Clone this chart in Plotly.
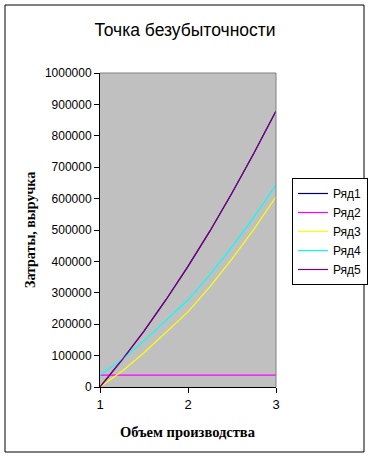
import plotly.graph_objects as go

volume = [1, 1.25, 1.5, 1.75, 2, 2.25, 2.5, 2.75, 3]
row1 = [0, 86000, 178000, 278000, 384000, 497000, 618000, 745000, 879000]
row2 = [38000, 38000, 38000, 38000, 38000, 38000, 38000, 38000, 38000]
row3 = [0, 50000, 109000, 174000, 239000, 320000, 408000, 503000, 606000]
row4 = [38000, 88000, 147000, 212000, 277000, 358000, 446000, 541000, 644000]
row5 = [0, 86000, 178000, 278000, 384000, 497000, 618000, 745000, 879000]

names = ["Ряд1", "Ряд2", "Ряд3", "Ряд4", "Ряд5"]
series = [row1, row2, row3, row4, row5]
colors = ["#000080", "#FF00FF", "#FFFF00", "#00FFFF", "#800080"]

W, H = 371, 458
ML, MR, MT, MB = 100, 95, 73, 71
PW, PH = W - ML - MR, H - MT - MB

fig = go.Figure()
for n, s, c in zip(names, series, colors):
    fig.add_trace(go.Scatter(x=volume, y=s, name=n, mode="lines",
                             line=dict(color=c, width=1.2)))

def px_x(p):
    return (p - ML) / PW

def px_y(p):
    return (H - MB - p) / PH

serif = "Liberation Serif, Times New Roman, serif"

fig.update_layout(
    width=W, height=H,
    margin=dict(l=ML, r=MR, t=MT, b=MB, autoexpand=False),
    paper_bgcolor="white",
    plot_bgcolor="#C0C0C0",
    font=dict(family="Liberation Sans, Arial, sans-serif", size=12, color="black"),
    title=dict(text="Точка безубыточности", x=185 / W, xanchor="center",
               y=1 - 30 / H, yanchor="middle",
               font=dict(size=17.5, family="Liberation Sans, Arial, sans-serif")),
    showlegend=True,
    legend=dict(x=px_x(292), y=px_y(178), xanchor="left", yanchor="top",
                bordercolor="black", borderwidth=1, bgcolor="white",
                font=dict(size=12), itemwidth=30, tracegroupgap=0),
    xaxis=dict(range=[1, 3], tickvals=[1, 2, 3], ticktext=["1", "2", "3"],
               showgrid=False, zeroline=False, showline=True, linecolor="black",
               linewidth=1, ticks="outside", ticklen=5, tickcolor="black",
               automargin=False, tickfont=dict(size=13)),
    yaxis=dict(range=[0, 1000000], tickvals=list(range(0, 1000001, 100000)),
               ticktext=[str(v) for v in range(0, 1000001, 100000)],
               showgrid=False, zeroline=False, showline=True, linecolor="black",
               linewidth=1, ticks="outside", ticklen=5, tickcolor="black",
               automargin=False, tickfont=dict(size=12)),
    annotations=[
        dict(text="<b>Объем производства</b>", xref="paper", yref="paper",
             x=px_x(188), y=px_y(432), xanchor="center", yanchor="middle",
             showarrow=False, font=dict(family=serif, size=14.5)),
        dict(text="<b>Затраты, выручка</b>", xref="paper", yref="paper",
             x=px_x(30), y=px_y(230), xanchor="center", yanchor="middle",
             textangle=-90, showarrow=False, font=dict(family=serif, size=14)),
    ],
    shapes=[
        dict(type="line", xref="paper", yref="paper", x0=0, x1=1, y0=1, y1=1,
             line=dict(color="#808080", width=1)),
        dict(type="line", xref="paper", yref="paper", x0=1, x1=1, y0=0, y1=1,
             line=dict(color="#808080", width=1)),
        dict(type="rect", xref="paper", yref="paper",
             x0=px_x(5), x1=px_x(364), y0=px_y(452), y1=px_y(5),
             line=dict(color="black", width=1), fillcolor="rgba(0,0,0,0)", layer="above"),
    ],
)

fig.write_html("out.html", config={"displayModeBar": False},
               post_script="document.body.style.margin='0';document.body.style.overflow='hidden';")
